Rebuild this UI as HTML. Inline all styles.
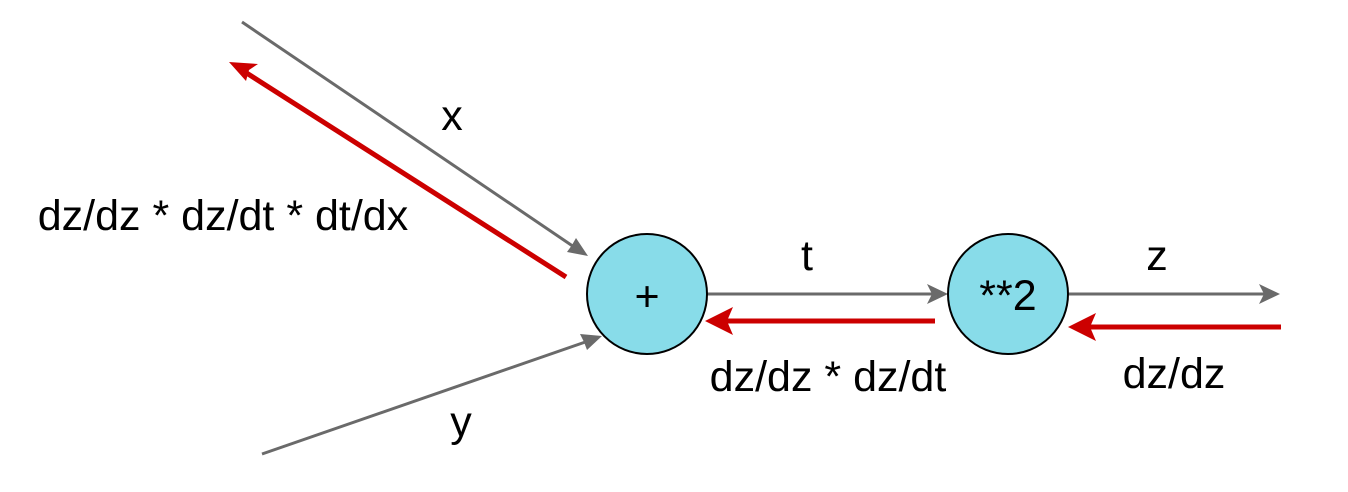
<!DOCTYPE html>
<html><head><style>
html,body{margin:0;padding:0;background:#fff;}
svg{display:block;}
text{font-family:"Liberation Sans",Arial,sans-serif;font-size:43px;fill:#000;}
</style></head><body>
<svg width="1348" height="492" viewBox="0 0 1348 492">
<g stroke="#6a6a6a" stroke-width="3" fill="none">
<line x1="242" y1="22" x2="580" y2="251"/>
<line x1="262" y1="454" x2="594" y2="339"/>
<line x1="707" y1="294" x2="940" y2="294"/>
<line x1="1069" y1="294" x2="1272" y2="294"/>
</g>
<g fill="#6a6a6a">
<polygon points="588,256 567,252 572,245 576,238"/>
<polygon points="602,336 587,350 584,342 580,334"/>
<polygon points="948,294 927,284 932,294 927,304"/>
<polygon points="1280,294 1259,284 1264,294 1259,304"/>
</g>
<g stroke="#cc0000" stroke-width="5" fill="none">
<line x1="566" y1="277" x2="245" y2="72"/>
<line x1="935" y1="321" x2="722" y2="321"/>
<line x1="1281" y1="327" x2="1085" y2="327"/>
</g>
<g fill="#cc0000">
<polygon points="229,62 258,64 249,70 246,81"/>
<polygon points="705,321 733,307 727,321 733,335"/>
<polygon points="1068,327 1096,313 1090,327 1096,341"/>
</g>
<circle cx="647" cy="294" r="60" fill="#88dce9" stroke="#000" stroke-width="2"/>
<circle cx="1008" cy="294" r="60" fill="#88dce9" stroke="#000" stroke-width="2"/>
<text x="647" y="311" text-anchor="middle">+</text>
<text x="1008" y="310" text-anchor="middle">**2</text>
<text x="452" y="130" text-anchor="middle">x</text>
<text x="223" y="230" text-anchor="middle">dz/dz * dz/dt * dt/dx</text>
<text x="807" y="270" text-anchor="middle">t</text>
<text x="1157" y="270" text-anchor="middle">z</text>
<text x="828" y="391" text-anchor="middle">dz/dz * dz/dt</text>
<text x="1174" y="388" text-anchor="middle">dz/dz</text>
<text x="461" y="436" text-anchor="middle">y</text>
</svg>
</body></html>
